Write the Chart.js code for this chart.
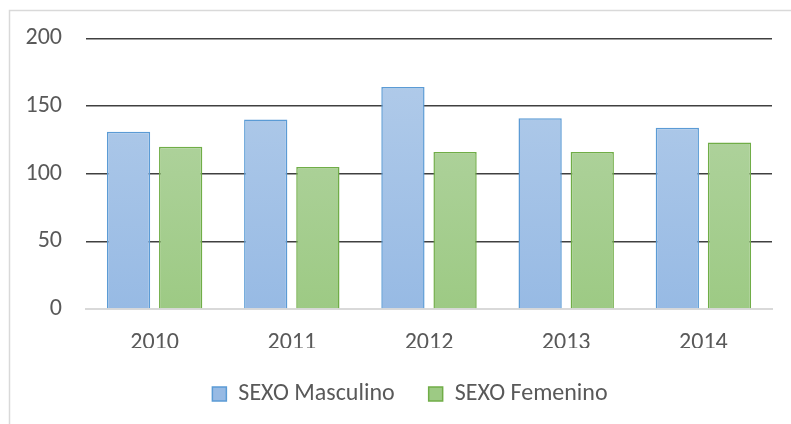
<!DOCTYPE html>
<html>
<head>
<meta charset="utf-8">
<script src="https://cdn.jsdelivr.net/npm/chart.js@4"></script>
<style>
html,body{margin:0;padding:0;background:#fff;}
#wrap{position:relative;width:791px;height:424px;}
</style>
</head>
<body>
<div id="wrap"><canvas id="c" width="791" height="424"></canvas></div>
<script>
const categories = ['2010', '2011', '2012', '2013', '2014'];
const seriesNames = ['SEXO Masculino', 'SEXO Femenino'];
const masculino = [131, 140, 164, 141, 134];
const femenino = [120, 105, 116, 116, 123];
const yTicks = [0, 50, 100, 150, 200];

const FONT = 'Carlito, Lato, sans-serif';

function grad(ctx, area, top, bottom) {
  if (!area) return top;
  const g = ctx.createLinearGradient(0, area.top, 0, area.bottom);
  g.addColorStop(0, top);
  g.addColorStop(1, bottom);
  return g;
}

const frame = {
  id: 'frame',
  beforeDraw(chart) {
    const c = chart.ctx;
    c.save();
    c.strokeStyle = '#d9d9d9';
    c.lineWidth = 1.5;
    c.beginPath();
    c.moveTo(9.5, 430);
    c.lineTo(9.5, 10.5);
    c.lineTo(800, 10.5);
    c.stroke();
    c.restore();
  }
};

const legendShift = {
  id: 'legendShift',
  afterLayout(chart) {
    if (chart.legend) {
      chart.legend.left += 24;
      chart.legend.right += 24;
    }
  }
};

new Chart(document.getElementById('c'), {
  type: 'bar',
  data: {
    labels: categories,
    datasets: [
      {
        label: seriesNames[0],
        data: masculino,
        backgroundColor: (ctx) => grad(ctx.chart.ctx, ctx.chart.chartArea, '#b4cdea', '#97bae4'),
        borderColor: '#5b9bd5',
        borderWidth: 1.5,
        categoryPercentage: 0.76,
        barPercentage: 0.83
      },
      {
        label: seriesNames[1],
        data: femenino,
        backgroundColor: (ctx) => grad(ctx.chart.ctx, ctx.chart.chartArea, '#b7d6a8', '#9dca84'),
        borderColor: '#70ad47',
        borderWidth: 1.5,
        categoryPercentage: 0.76,
        barPercentage: 0.83
      }
    ]
  },
  options: {
    responsive: false,
    animation: false,
    layout: { padding: { left: 0, right: 19, top: 32, bottom: 8 } },
    plugins: {
      tooltip: { enabled: false },
      legend: {
        position: 'bottom',
        labels: {
          color: '#595959',
          font: { family: FONT, size: 24 },
          boxWidth: 14,
          boxHeight: 14,
          padding: 34,
          useBorderRadius: false
        }
      }
    },
    scales: {
      x: {
        grid: { display: false },
        border: { color: '#d9d9d9', width: 2 },
        ticks: { color: '#595959', font: { family: FONT, size: 24 }, padding: 12 },
        afterFit(s) { s.height = 39; }
      },
      y: {
        min: 0,
        max: 200,
        afterBuildTicks(s) { s.ticks = yTicks.map(v => ({ value: v })); },
        grid: {
          color: (ctx) => ctx.tick && ctx.tick.value === 0 ? 'rgba(0,0,0,0)' : '#404040',
          lineWidth: 1.5,
          drawTicks: false
        },
        border: { display: false },
        ticks: { color: '#595959', font: { family: FONT, size: 24 }, padding: 24 },
        afterFit(s) { s.width = 86; }
      }
    }
  },
  plugins: [frame, legendShift]
});
</script>
</body>
</html>
